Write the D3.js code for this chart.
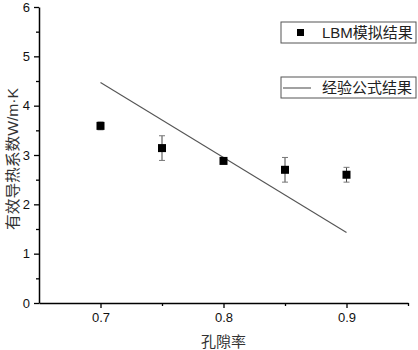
<!DOCTYPE html>
<html>
<head>
<meta charset="utf-8">
<script src="https://cdn.jsdelivr.net/npm/d3@7"></script>
<style>
  body { margin: 0; background: #fff; }
  text { font-family: "Liberation Sans", Arial, "Noto Sans CJK SC", sans-serif; }
</style>
</head>
<body>
<div id="chart"></div>
<script>
// porosity and effective thermal conductivity
const porosity = [0.7, 0.75, 0.8, 0.85, 0.9];
const lbmValues = [3.59, 3.14, 2.88, 2.70, 2.60];
const lbmErrors = [0.08, 0.25, 0.03, 0.25, 0.15];
const formulaX = [0.7, 0.9];
const formulaY = [4.47, 1.43];
const xTicks = [0.7, 0.8, 0.9];
const yTicks = [0, 1, 2, 3, 4, 5, 6];
const legendLabels = ['LBM模拟结果', '经验公式结果'];

const width = 418, height = 350;
const margin = { top: 7, right: 10, bottom: 47, left: 39 };

const svg = d3.select('#chart')
    .append('svg')
    .attr('width', width)
    .attr('height', height);

const xScale = d3.scaleLinear()
    .domain([0.65, 0.95])
    .range([margin.left, width - margin.right]);

const yScale = d3.scaleLinear()
    .domain([0, 6])
    .range([height - margin.bottom, margin.top]);

// minor ticks
svg.append('g')
    .attr('transform', `translate(0, ${height - margin.bottom})`)
    .call(d3.axisBottom(xScale).tickValues([0.75, 0.85, 0.95]).tickSize(3).tickFormat(''))
    .call(g => g.select('.domain').remove())
    .selectAll('line').attr('stroke-width', 1.3);

svg.append('g')
    .attr('transform', `translate(${margin.left}, 0)`)
    .call(d3.axisLeft(yScale).tickValues(d3.range(0.5, 6, 1)).tickSize(3).tickFormat(''))
    .call(g => g.select('.domain').remove())
    .selectAll('line').attr('stroke-width', 1.3);

// main axes
const xAxis = svg.append('g')
    .attr('transform', `translate(0, ${height - margin.bottom})`)
    .call(d3.axisBottom(xScale).tickValues(xTicks).tickSize(5).tickSizeOuter(0).tickPadding(5).tickFormat(d3.format('.1f')));

const yAxis = svg.append('g')
    .attr('transform', `translate(${margin.left}, 0)`)
    .call(d3.axisLeft(yScale).tickValues(yTicks).tickSize(5).tickSizeOuter(0).tickPadding(4).tickFormat(d3.format('d')));

[xAxis, yAxis].forEach(ax => {
    ax.select('.domain').attr('stroke-width', 1.5);
    ax.selectAll('line').attr('stroke-width', 1.3);
    ax.selectAll('text').attr('font-size', 13).attr('fill', '#111')
        .style('font-family', '"Liberation Sans", Arial, sans-serif');
});

// axis titles
svg.append('text')
    .attr('text-anchor', 'middle')
    .attr('x', xScale(0.8))
    .attr('y', height - 3)
    .attr('font-size', 15)
    .attr('fill', '#333')
    .text('孔隙率');

const yTitle = svg.append('text')
    .attr('text-anchor', 'middle')
    .attr('transform', `translate(18, ${yScale(2.92)}) rotate(-90)`)
    .attr('font-size', 15)
    .attr('textLength', 142)
    .attr('lengthAdjust', 'spacingAndGlyphs')
    .attr('fill', '#333');
yTitle.append('tspan').style('font-family', '"Noto Sans CJK SC", sans-serif').text('有效导热系数');
yTitle.append('tspan').style('font-family', '"Liberation Sans", Arial, sans-serif').text('W/m·K');

// empirical formula line
const line = d3.line()
    .x(d => xScale(d[0]))
    .y(d => yScale(d[1]));

svg.append('path')
    .datum(formulaX.map((x, i) => [x, formulaY[i]]))
    .attr('d', line)
    .attr('fill', 'none')
    .attr('stroke', '#555')
    .attr('stroke-width', 1.1);

// LBM points with error bars
const pts = porosity.map((x, i) => ({ x: x, y: lbmValues[i], e: lbmErrors[i] }));

const err = svg.append('g')
    .selectAll('g')
    .data(pts)
    .enter()
    .append('g');

err.append('line')
    .attr('x1', d => xScale(d.x)).attr('x2', d => xScale(d.x))
    .attr('y1', d => yScale(d.y - d.e)).attr('y2', d => yScale(d.y + d.e))
    .attr('stroke', '#444').attr('stroke-width', 1);

err.selectAll('.cap')
    .data(d => [d.y - d.e, d.y + d.e].map(v => ({ x: d.x, v: v })))
    .enter()
    .append('line')
    .attr('x1', d => xScale(d.x) - 3).attr('x2', d => xScale(d.x) + 3)
    .attr('y1', d => yScale(d.v)).attr('y2', d => yScale(d.v))
    .attr('stroke', '#777').attr('stroke-width', 1);

svg.selectAll('rect.pt')
    .data(pts)
    .enter()
    .append('rect')
    .attr('class', 'pt')
    .attr('x', d => xScale(d.x) - 4)
    .attr('y', d => yScale(d.y) - 4)
    .attr('width', 8)
    .attr('height', 8)
    .attr('fill', '#000');

// legends
const lg1 = svg.append('g').attr('transform', 'translate(281, 22)');
lg1.append('rect').attr('width', 135).attr('height', 21)
    .attr('fill', '#fff').attr('stroke', '#555').attr('stroke-width', 1);
lg1.append('rect').attr('x', 16).attr('y', 7).attr('width', 7).attr('height', 7).attr('fill', '#000');
lg1.append('text').attr('x', 41).attr('y', 16).attr('font-size', 15).attr('fill', '#222').text(legendLabels[0]);

const lg2 = svg.append('g').attr('transform', 'translate(281, 77)');
lg2.append('rect').attr('width', 135).attr('height', 21)
    .attr('fill', '#fff').attr('stroke', '#555').attr('stroke-width', 1);
lg2.append('line').attr('x1', 2).attr('x2', 30).attr('y1', 11).attr('y2', 11)
    .attr('stroke', '#555').attr('stroke-width', 1.1);
lg2.append('text').attr('x', 41).attr('y', 16).attr('font-size', 15).attr('fill', '#222').text(legendLabels[1]);
</script>
</body>
</html>
